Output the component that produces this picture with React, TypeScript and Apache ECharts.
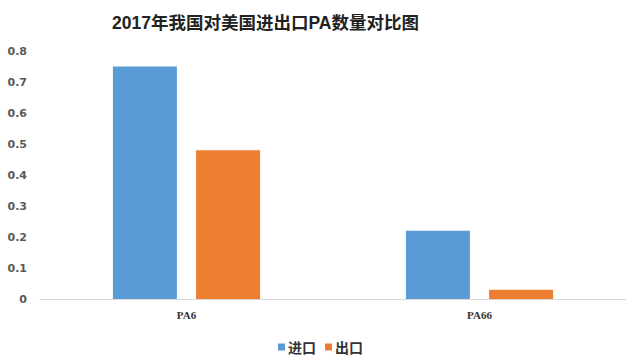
import React, { useEffect, useRef } from "react";
import * as echarts from "echarts";

const categories = ["PA6", "PA66"];
const importValues = [0.75, 0.22];
const exportValues = [0.48, 0.03];
const seriesNames = ["进口", "出口"];
const titleText = "2017年我国对美国进出口PA数量对比图";

export default function App() {
  const ref = useRef<HTMLDivElement>(null);
  useEffect(() => {
    if (!ref.current) return;
    const chart = echarts.init(ref.current, null, { renderer: "svg" });
    chart.setOption({
      animation: false,
      backgroundColor: "#ffffff",
      title: {
        text: titleText,
        left: 107,
        top: 9,
        textStyle: {
          fontSize: 17.5,
          fontWeight: "bold",
          color: "#222222",
          fontFamily: "'Liberation Sans', 'Noto Sans CJK SC', sans-serif",
        },
      },
      legend: {
        data: seriesNames,
        left: 273,
        top: 335,
        icon: "rect",
        itemWidth: 7,
        itemHeight: 7,
        itemGap: 9,
        textStyle: {
          fontSize: 14,
          fontWeight: "bold",
          color: "#333333",
          padding: [0, 0, 0, -2],
          fontFamily: "'Noto Sans CJK SC', sans-serif",
        },
      },
      grid: { left: 40, right: 14, top: 51, bottom: 60, containLabel: false },
      xAxis: {
        type: "category",
        data: categories,
        axisLine: { lineStyle: { color: "#d9d9d9", width: 1 } },
        axisTick: { show: false },
        axisLabel: {
          margin: 10,
          fontSize: 11,
          fontWeight: "bold",
          color: "#333333",
          fontFamily: "'Liberation Serif', serif",
        },
      },
      yAxis: {
        type: "value",
        min: 0,
        max: 0.8,
        interval: 0.1,
        splitLine: { show: false },
        axisLine: { show: false },
        axisTick: { show: false },
        axisLabel: {
          margin: 13,
          fontSize: 11,
          fontWeight: "bold",
          color: "#595959",
          fontFamily: "'DejaVu Sans', sans-serif",
        },
      },
      series: [
        {
          name: seriesNames[0],
          type: "bar",
          data: importValues,
          barWidth: 64,
          barGap: "30%",
          itemStyle: { color: "#5B9BD5" },
        },
        {
          name: seriesNames[1],
          type: "bar",
          data: exportValues,
          barWidth: 64,
          itemStyle: { color: "#ED7D31" },
        },
      ],
    });
    return () => chart.dispose();
  }, []);
  return (
    <div
      ref={ref}
      style={{ position: "fixed", left: 0, top: 0, width: 640, height: 359 }}
    />
  );
}
